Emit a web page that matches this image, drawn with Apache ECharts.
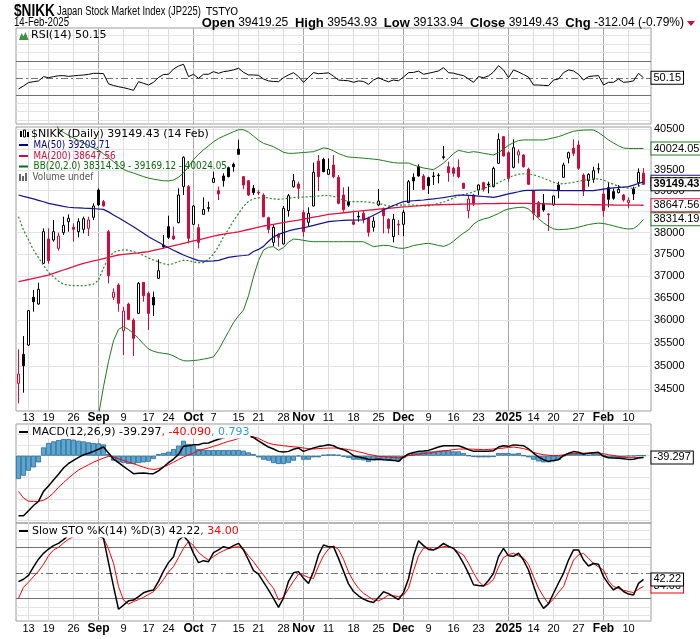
<!DOCTYPE html>
<html><head><meta charset="utf-8">
<script src="https://cdn.jsdelivr.net/npm/echarts/dist/echarts.min.js"></script>
<style>html,body{margin:0;padding:0;background:#fff}#c{width:700px;height:639px}</style>
</head><body><div id="c"></div>
<script>
// ---------- data ----------
const dates = [
'2024-08-08','2024-08-09','2024-08-13','2024-08-14','2024-08-15','2024-08-16','2024-08-19','2024-08-20','2024-08-21','2024-08-22',
'2024-08-23','2024-08-26','2024-08-27','2024-08-28','2024-08-29','2024-08-30','2024-09-02','2024-09-03','2024-09-04','2024-09-05',
'2024-09-06','2024-09-09','2024-09-10','2024-09-11','2024-09-12','2024-09-13','2024-09-17','2024-09-18','2024-09-19','2024-09-20',
'2024-09-24','2024-09-25','2024-09-26','2024-09-27','2024-09-30','2024-10-01','2024-10-02','2024-10-03','2024-10-04','2024-10-07',
'2024-10-08','2024-10-09','2024-10-10','2024-10-11','2024-10-15','2024-10-16','2024-10-17','2024-10-18','2024-10-21','2024-10-22',
'2024-10-23','2024-10-24','2024-10-25','2024-10-28','2024-10-29','2024-10-30','2024-10-31','2024-11-01','2024-11-05','2024-11-06',
'2024-11-07','2024-11-08','2024-11-11','2024-11-12','2024-11-13','2024-11-14','2024-11-15','2024-11-18','2024-11-19','2024-11-20',
'2024-11-21','2024-11-22','2024-11-25','2024-11-26','2024-11-27','2024-11-28','2024-11-29','2024-12-02','2024-12-03','2024-12-04',
'2024-12-05','2024-12-06','2024-12-09','2024-12-10','2024-12-11','2024-12-12','2024-12-13','2024-12-16','2024-12-17','2024-12-18',
'2024-12-19','2024-12-20','2024-12-23','2024-12-24','2024-12-25','2024-12-26','2024-12-27','2024-12-30','2025-01-06','2025-01-07',
'2025-01-08','2025-01-09','2025-01-10','2025-01-14','2025-01-15','2025-01-16','2025-01-17','2025-01-20','2025-01-21','2025-01-22',
'2025-01-23','2025-01-24','2025-01-27','2025-01-28','2025-01-29','2025-01-30','2025-01-31','2025-02-03','2025-02-04','2025-02-05',
'2025-02-06','2025-02-07','2025-02-10','2025-02-12','2025-02-13','2025-02-14'];

const open = [34628,35252,35456,36514,36364,37288,37852,37828,37634,38000,
38258,38125,38023,38078,38101,38361,39013,38733,38023,36514,
36793,35771,36364,36007,36155,36853,36604,36514,36945,37704,
38141,37921,38235,39093,39093,38196,38117,38431,38590,39197,
38997,39351,39553,39635,40004,39335,39238,39053,38960,38892,
38353,37774,37960,37735,38519,39093,39157,38479,38243,38630,
39716,39756,39391,39619,39319,38892,38733,38258,38385,38455,
38337,38125,38654,38574,38313,37906,38200,38196,38709,39319,
39577,39351,39311,39350,39360,39820,39577,39537,39561,39173,
38519,38892,39013,39190,39157,39093,39660,40317,39922,39561,
39864,39864,39513,38997,38709,38693,38440,38654,39133,39319,
39788,40028,40111,39375,39238,39270,39520,38918,39069,38973,
38949,38892,38715,39037,39190,39419.25];
const high = [35361,35653,36230,36680,36846,38101,38101,38297,38000,38376,
38431,38219,38337,38376,38376,38693,39053,38773,38062,36717,
36831,36300,36394,36044,36860,36860,36642,36642,37380,37945,
38400,38141,39053,39830,39133,38654,38204,38837,38733,39456,
39093,39416,39577,39676,40243,39351,39254,39133,39013,38933,
38376,38180,37984,38630,38918,39399,39213,38535,38597,39676,
39864,39797,39780,39864,39375,39077,39093,38519,38494,38519,
38376,38376,39037,38590,38337,38439,38297,38535,39253,39416,
39635,39399,39335,39456,39416,40087,39700,39577,39756,39190,
38892,38918,39149,39213,39213,39577,40400,40330,39946,40251,
40004,39880,39553,39013,38749,38918,38455,38880,39213,39676,
39946,40251,40218,39416,39416,39577,39660,39053,39190,39053,
39133,38918,38837,39093,39537,39543.93];
const low = [34203,34429,35434,36193,36350,37280,37280,37789,37580,37945,
38023,37789,37890,37984,37921,38297,38630,38620,36831,36454,
36193,35238,36007,35216,36140,36416,35786,36096,36930,37634,
37852,37828,38220,38892,37750,38180,37634,38420,38494,39190,
38773,39093,39319,39456,39870,39029,38869,38892,38892,38361,
37984,37688,37673,37720,38376,39069,38797,37906,38141,38620,
38989,39440,39375,39295,38669,38494,38610,38180,38258,38219,
37906,38023,38630,37984,37984,37774,37945,37921,38700,39013,
39335,39013,38918,39133,39173,39756,39213,39335,39295,39040,
38337,38630,38892,38973,38933,39077,39650,39830,39213,39537,
39660,39553,39133,38297,38353,38494,38039,38630,38813,39310,
39660,39839,39497,38869,39093,39190,39416,38376,38597,38780,
38933,38733,38574,38773,39093,39133.94];
const close = [34828,35007,36215,36416,36694,38023,37349,38023,37921,38172,
38337,38078,38258,38329,38300,38630,38654,38630,37005,36627,
36379,36208,36022,35602,36831,36551,36155,36342,37119,37673,
37890,37852,38892,39807,37867,38630,37774,38550,38574,39295,
38918,39238,39335,39577,39880,39133,38892,38949,38940,38376,
38078,38125,37890,38574,38877,39238,39053,38023,38455,39440,
39335,39456,39513,39335,38693,38540,38650,38196,38370,38313,
38007,38274,38749,38400,38101,38313,38180,38479,39213,39230,
39351,39029,39117,39340,39370,39805,39432,39416,39335,39053,
38797,38677,39133,39029,39133,39537,40251,39839,39295,40045,
39946,39577,39149,38455,38376,38535,38425,38869,39013,39619,
39922,39905,39537,38989,39391,39481,39530,38519,38789,38813,
39029,38773,38765,38918,39440,39149.43];
const priorClose = 35089; // session before the first bar (first candle is drawn red)

const ma50 = [38892,38860,38830,38800,38765,38730,38693,38670,38645,38620,
38600,38590,38585,38578,38574,38565,38558,38550,38490,38416,
38350,38280,38210,38141,38060,37985,37906,37840,37775,37710,
37650,37590,37535,37480,37435,37390,37349,37340,37340,37345,
37355,37390,37426,37442,37457,37468,37480,37560,37610,37680,
37800,37900,37960,38000,38040,38070,38095,38115,38141,38170,
38200,38230,38258,38270,38280,38290,38297,38297,38298,38300,
38350,38410,38470,38535,38590,38640,38690,38733,38745,38755,
38765,38773,38787,38800,38815,38829,38850,38870,38892,38890,
38885,38877,38867,38857,38847,38837,38860,38890,38918,38945,
38970,38997,39002,39006,39010,39013,39008,39003,38997,38997,
38997,38997,38997,38997,38997,38997,39015,39035,39053,39063,
39073,39083,39093,39130,39170,39209.71];
const ma200 = [36868,36893,36918,36944,36969,36995,37020,37058,37096,37135,
37173,37211,37250,37288,37315,37343,37370,37398,37425,37453,
37480,37493,37506,37519,37531,37544,37557,37585,37612,37640,
37667,37695,37722,37750,37778,37806,37834,37861,37889,37917,
37945,37964,37983,38001,38020,38047,38074,38102,38129,38156,
38176,38196,38216,38237,38257,38277,38297,38319,38342,38364,
38386,38409,38431,38444,38456,38469,38481,38494,38506,38519,
38530,38541,38553,38564,38575,38586,38597,38607,38616,38626,
38635,38645,38654,38657,38660,38663,38666,38669,38671,38674,
38677,38680,38682,38684,38686,38688,38689,38690,38690,38690,
38690,38690,38690,38687,38684,38680,38677,38673,38670,38669,
38667,38666,38664,38663,38661,38660,38659,38657,38656,38654,
38653,38651,38650,38649,38649,38647.56];
const bbUpper = [null,null,null,null,null,null,null,40800,40500,40420,
40350,40285,40220,40160,40100,40045,39990,39890,39800,39700,
39600,39510,39460,39424,39380,39335,39300,39275,39255,39235,
39232,39254,39320,39424,39580,39750,39880,39990,40090,40190,
40270,40330,40384,40440,40490,40490,40430,40330,40230,40152,
40110,40069,40000,39930,39905,39905,39915,39925,39935,39946,
39990,40040,40020,39965,39900,39850,39815,39805,39795,39787,
39775,39762,39750,39725,39700,39675,39667,39667,39667,39620,
39580,39546,39525,39505,39580,39667,39780,39900,39980,39950,
39925,39946,39930,39905,39885,39864,39920,40010,40100,40170,
40220,40236,40236,40236,40236,40236,40260,40290,40317,40360,
40410,40450,40470,40480,40485,40483,40420,40330,40236,40160,
40090,40035,40025,40024,40024,40024.05];
const bbMid = [38376,38062,37830,37596,37420,37240,37080,36980,36880,36810,
36790,36780,36778,36778,36790,36815,36900,37180,37420,37540,
37580,37596,37590,37560,37525,37470,37410,37365,37320,37280,
37255,37280,37330,37360,37350,37320,37305,37303,37380,37500,
37680,37900,38080,38280,38450,38620,38740,38800,38825,38837,
38820,38800,38790,38800,38815,38830,38840,38845,38850,38853,
38870,38885,38880,38860,38820,38770,38740,38733,38733,38733,
38720,38705,38693,38660,38630,38640,38650,38654,38654,38654,
38645,38638,38632,38660,38690,38720,38770,38820,38870,38900,
38930,38970,39010,39050,39090,39133,39190,39250,39310,39360,
39390,39406,39400,39380,39340,39295,39250,39200,39160,39165,
39180,39200,39220,39245,39270,39295,39275,39254,39200,39150,
39100,39075,39060,39053,39100,39169.12];
const bbLower = [null,null,null,null,null,null,null,null,null,null,
null,null,null,null,null,null,33950,34557,35100,35550,
35800,35860,35800,35712,35600,35480,35370,35320,35290,35275,
35260,35220,35160,35115,35110,35120,35130,35150,35170,35200,
35350,35550,35750,35950,36100,36230,36550,36982,37350,37596,
37660,37673,37590,37650,37780,37850,37840,37820,37800,37789,
37789,37789,37789,37789,37789,37789,37789,37789,37789,37789,
37730,37673,37690,37705,37700,37670,37640,37634,37660,37700,
37720,37740,37750,37730,37700,37680,37720,37800,37900,37990,
38062,38200,38280,38320,38350,38400,38450,38520,38560,38580,
38595,38600,38560,38450,38330,38230,38150,38090,38070,38075,
38085,38100,38128,38160,38190,38210,38224,38215,38190,38160,
38128,38100,38086,38095,38180,38314.19];

const rsi = [36.9,40.5,44.5,45.5,46.4,51.5,50.3,51.5,52.5,52.7,
51.8,52.4,53.0,53.4,54.2,55.4,55.4,55.0,43.0,41.0,
39.6,38.5,37.0,35.3,45.5,43.6,41.6,44.8,50.5,54.0,
54.3,60.5,64.0,66.1,51.5,54.3,49.5,54.3,54.3,57.4,
55.4,57.4,58.2,59.5,61.4,56.6,53.5,53.5,53.0,48.7,
46.4,45.8,45.5,50.3,53.5,56.2,51.5,44.8,50.5,56.2,
55.0,55.4,56.0,52.0,47.5,47.0,46.6,44.8,46.4,45.8,
42.4,47.5,50.3,47.5,45.5,47.5,46.6,51.0,56.2,56.5,
58.0,54.3,55.5,56.8,58.2,62.1,56.2,55.6,54.0,52.7,
48.7,44.8,51.5,50.3,52.3,57.0,64.5,59.4,50.3,59.4,
57.0,54.0,51.0,41.6,41.6,41.2,40.8,47.5,48.7,56.2,
59.4,58.2,54.3,47.5,51.5,52.3,52.7,41.6,44.8,44.8,
48.7,44.8,45.3,46.5,55.4,50.15];

const macd = [-1386,-1386,-1270,-1150,-1055,-824,-700,-560,-430,-285,
-180,-110,-40,20,55,100,150,200,62,-77,
-160,-246,-330,-416,-405,-400,-410,-416,-350,-260,
-160,-77,30,220,231,254,254,290,293,340,
380,415,440,447,460,462,455,420,340,270,
200,154,100,85,100,150,177,100,140,177,
210,231,254,230,170,139,85,0,-30,-54,
-80,-85,-80,-92,-100,-108,-131,-31,40,75,
100,110,123,160,200,231,231,231,231,190,
140,100,100,100,105,115,200,231,216,250,
240,231,160,60,-30,-92,-131,-110,-92,0,
55,95,80,38,55,70,77,-15,-45,-54,
-58,-69,-85,-80,-55,-39.297];
const macdSignal = [-824,-978,-1050,-1055,-1055,-1030,-960,-860,-730,-620,
-520,-420,-330,-270,-210,-150,-100,-54,-15,-30,
-70,-110,-150,-185,-225,-265,-300,-320,-300,-260,
-210,-150,-90,-30,20,60,120,150,180,216,
250,295,330,360,400,430,447,435,400,340,
290,260,245,230,216,205,195,177,165,154,
165,170,177,177,177,160,139,120,90,65,
30,10,-15,-22,-31,-40,-54,-20,0,15,
35,50,62,80,100,112,123,140,154,154,
154,150,145,139,145,154,165,177,190,200,
185,165,130,77,45,23,10,0,5,20,
35,46,52,57,62,62,62,45,23,5,
-15,-30,-45,-45,-42,-40.09];
const macdHist = [-539,-462,-346,-270,-154,192,293,331,362,385,
385,370,346,331,308,293,285,260,40,-115,
-154,-170,-192,-192,-170,-154,-139,-77,38,62,
92,154,231,346,270,231,154,139,131,131,
131,131,131,131,131,115,77,38,-38,-92,
-115,-170,-192,-192,-170,-115,-15,-92,-92,-38,
-38,23,31,31,23,-23,-54,-92,-92,-108,
-146,-108,-77,-92,-108,-115,-131,-54,23,62,
77,100,100,100,115,123,123,100,100,62,
0,-31,-38,-38,-38,-31,62,62,62,46,
62,0,-38,-92,-131,-154,-154,-131,-92,0,
62,62,46,46,23,46,46,0,-54,-54,
-54,-54,-15,-15,0,0.793];

const stoK = [39.6,42.4,47.0,57.0,66.0,72.9,78.0,82.0,84.7,89.0,
94.0,96.5,98.0,97.5,96.0,95.0,93.5,90.6,62.0,34.0,
7.1,12.0,17.0,18.0,22.0,26.5,28.5,29.8,40.0,52.0,
62.0,69.0,88.0,93.3,86.7,72.9,62.0,64.3,63.1,73.7,
76.9,80.8,78.8,82.0,84.7,76.9,65.1,52.5,48.5,39.0,
30.0,20.0,9.4,20.5,40.0,50.0,51.4,43.5,37.6,51.4,
71.0,82.7,80.8,80.8,67.0,52.0,37.0,28.0,23.0,19.0,
16.5,15.0,21.0,27.8,25.5,22.0,18.5,26.7,43.0,70.0,
87.8,82.0,77.5,76.9,80.0,84.7,81.0,78.8,71.5,61.2,
49.4,36.0,35.0,34.5,41.0,49.4,69.0,78.8,70.0,69.5,
73.0,65.0,53.3,35.0,18.0,8.2,13.5,26.0,38.0,49.4,
65.0,76.9,76.9,65.1,58.0,61.0,60.0,45.5,37.0,29.8,
33.7,28.0,25.0,23.9,37.6,42.22];
const stoD = [20.0,33.0,39.0,45.5,52.0,60.0,70.0,76.9,80.0,85.0,
89.5,92.5,95.0,96.5,96.5,95.5,94.5,91.0,78.0,61.2,
34.0,18.0,13.3,16.1,18.5,21.2,24.5,27.8,34.5,42.0,
51.0,57.3,68.0,78.8,87.0,82.0,74.0,69.0,65.1,69.0,
73.0,76.0,78.5,80.0,80.8,78.0,70.0,63.1,55.0,47.5,
39.0,31.8,18.0,21.2,31.0,40.0,48.5,47.0,44.5,43.5,
58.0,70.0,78.0,81.6,77.5,66.0,51.0,40.0,31.8,26.0,
22.0,18.0,17.0,20.0,23.9,23.0,22.0,23.9,31.8,52.0,
70.0,79.0,79.5,76.9,79.0,80.8,81.6,78.5,74.5,71.0,
61.2,50.0,40.0,34.5,37.0,42.4,57.0,68.0,71.5,72.9,
70.0,67.5,60.0,45.5,32.0,22.0,13.3,19.0,27.0,33.7,
50.0,65.0,71.0,72.9,67.1,61.0,57.0,53.3,40.5,34.0,
31.5,29.5,28.0,26.7,30.6,34.0];

// tick labels
const tickDates = ['2024-08-13','2024-08-19','2024-08-26','2024-09-02','2024-09-09','2024-09-17','2024-09-24','2024-10-01','2024-10-07','2024-10-15','2024-10-21','2024-10-28','2024-11-01','2024-11-11','2024-11-18','2024-11-25','2024-12-02','2024-12-09','2024-12-16','2024-12-23','2025-01-06','2025-01-14','2025-01-20','2025-01-27','2025-02-03','2025-02-10'];
const tickLabels = ['13','19','26','Sep','9','17','24','Oct','7','15','21','28','Nov','11','18','25','Dec','9','16','23','2025','14','20','27','Feb','10'];
const monthLabels = ['Sep','Oct','Nov','Dec','2025','Feb'];
const priceTicks = [34500,35000,35500,36000,36500,37000,37500,38000,38500,39000,39500,40000,40500];
const rsiTicks = [10,30,50,70,90];
const rsiGrid = [0,10,20,40,60,80,90,100];
const macdTicks = [500,0,-500,-1000,-1500];
const macdGrid = [500,250,0,-250,-500,-750,-1000,-1250,-1500];
const stoTicks = [20,50,80];
const stoGrid = [0,10,30,40,60,70,90,100];

// ---------- chart ----------
const SANS = '"Liberation Sans", Arial, sans-serif';
const VERD = '"DejaVu Sans", Verdana, sans-serif';
const RED = '#d10a3c';
const cats = dates.concat(['']);
const tickMap = {};
tickDates.forEach((d, k) => tickMap[d] = tickLabels[k]);

const candleData = dates.map((d, i) => {
  const o = open[i], c = close[i], pc = i ? close[i - 1] : priorClose;
  const col = c < pc ? RED : '#000';
  const fill = c > o ? '#fff' : col;
  return {value: [o, c, low[i], high[i]],
    itemStyle: {color: fill, color0: fill, borderColor: col, borderColor0: col, borderWidth: 1}};
});

function vLines() {
  return tickDates.map((d, k) => ({xAxis: d,
    lineStyle: {color: monthLabels.includes(tickLabels[k]) ? '#a6a6a6' : '#dcdcdc', width: 1, type: 'solid'}}));
}
function hLine(v, color, type, text) {
  const o = {yAxis: v, lineStyle: {color: color, width: 1, type: type}};
  if (text != null) o.label = {show: true, position: 'end', formatter: text, distance: 3,
    color: '#000', fontSize: 11, fontFamily: SANS};
  return o;
}
function helper(k, lines) {
  return {type: 'line', xAxisIndex: k, yAxisIndex: k, data: [], silent: true, z: 1,
    markLine: {silent: true, symbol: 'none', z: 1, animation: false, label: {show: false},
      data: vLines().concat(lines)}};
}
function tag(color, bold, digits) {
  return {show: true, formatter: p => Number(p.value).toFixed(digits), color: '#000', fontSize: 11,
    fontFamily: SANS, fontWeight: bold ? 'bold' : 'normal', backgroundColor: '#fff',
    borderColor: color, borderWidth: 1, padding: [1, 2, 0, 2], distance: 8};
}
function line(k, data, color, width, extra) {
  return Object.assign({type: 'line', xAxisIndex: k, yAxisIndex: k, data: data, symbol: 'none',
    showSymbol: false, connectNulls: false, z: 3,
    lineStyle: {color: color, width: width}}, extra || {});
}
function xAxisFor(k, show, margin) {
  return {type: 'category', gridIndex: k, data: cats, boundaryGap: true,
    axisLine: {show: false}, axisTick: {show: false}, splitLine: {show: false},
    axisLabel: show ? {show: true, interval: (i, v) => v in tickMap, margin: margin,
      formatter: v => { const t = tickMap[v]; return t == null ? '' : (monthLabels.includes(t) ? '{m|' + t + '}' : t); },
      color: '#000', fontSize: 11, fontFamily: SANS,
      rich: {m: {fontWeight: 'bold', fontSize: 12, fontFamily: SANS, color: '#000'}}} : {show: false}};
}
const tickLabelItem = v => ({yAxis: v, lineStyle: {opacity: 0},
  label: {show: true, position: 'end', formatter: String(v), distance: 3, color: '#000', fontSize: 11, fontFamily: SANS}});

const priceLines = priceTicks.map(v => hLine(v, '#e3e3e3', 'solid', String(v)));
const rsiLines = rsiGrid.map(v => hLine(v, '#e3e3e3', 'solid'))
  .concat([hLine(70, '#707070', 'solid'), hLine(30, '#707070', 'solid'), hLine(50, '#707070', [7, 3, 2, 3])])
  .concat(rsiTicks.map(tickLabelItem));
const macdLines = macdGrid.map(v => hLine(v, '#e3e3e3', 'solid')).concat(macdTicks.map(tickLabelItem));
const stoLines = stoGrid.map(v => hLine(v, '#e3e3e3', 'solid'))
  .concat([hLine(80, '#707070', 'solid'), hLine(20, '#707070', 'solid'), hLine(50, '#707070', [7, 3, 2, 3])])
  .concat(stoTicks.map(tickLabelItem));

const G = (o) => Object.assign({z: 50, zlevel: 0}, o);
const T = (x, y, text, font, fill, extra) => G(Object.assign({type: 'text', x: x, y: y,
  style: Object.assign({text: text, font: font, fill: fill, verticalAlign: 'middle'}, (extra && extra.style) || {})},
  extra && extra.el ? extra.el : {}));
const graphic = [
  T(14, 11, '$NIKK', 'bold 17px ' + SANS, '#000', {el: {scaleX: 0.8}}),
  T(57, 12, 'Japan Stock Market Index (JP225)', '12.5px ' + SANS, '#000', {el: {scaleX: 0.75}}),
  T(206, 12, 'TSTYO', '10px ' + VERD, '#000'),
  T(698, 12, '\u00a9StockCharts.com', '12.5px ' + SANS, '#555', {style: {align: 'right'}, el: {scaleX: 0.86, originX: 698}}),
  T(14, 23, '14-Feb-2025', '12px ' + SANS, '#000', {el: {scaleX: 0.8}}),
  T(684, 23, '{b|Open} 39419.25  {b|High} 39543.93  {b|Low} 39133.94  {b|Close} 39149.43  {b|Chg} -312.04 (-0.79%)',
    '12px ' + SANS, '#000', {style: {align: 'right', rich: {b: {font: 'bold 13px ' + SANS, fill: '#000'}}}}),
  G({type: 'polygon', shape: {points: [[687, 21], [695, 21], [691, 26]]}, style: {fill: RED}}),
  // RSI legend
  G({type: 'polygon', shape: {points: [[19, 40], [21.5, 33], [23.5, 36.5], [25.5, 32], [28.5, 40]]}, style: {fill: '#3f8f3f'}}),
  T(31, 35.5, 'RSI(14) 50.15', '11px ' + VERD, '#000'),
  // price legend
  G({type: 'rect', shape: {x: 20, y: 131, width: 2, height: 6}, style: {fill: '#000'}}),
  G({type: 'rect', shape: {x: 23.5, y: 130, width: 2, height: 7}, style: {fill: '#fff', stroke: '#000', lineWidth: 1}}),
  G({type: 'rect', shape: {x: 27, y: 132, width: 2, height: 5}, style: {fill: '#000'}}),
  T(31, 134, '$NIKK (Daily) 39149.43 (14 Feb)', '11px ' + VERD, '#000'),
  G({type: 'line', shape: {x1: 19, y1: 145, x2: 28, y2: 145}, style: {stroke: '#000080', lineWidth: 2}}),
  T(30, 145, 'MA(50) 39209.71', '10px ' + VERD, '#000080', {el: {scaleX: 0.88, originX: 30}}),
  G({type: 'line', shape: {x1: 19, y1: 156, x2: 28, y2: 156}, style: {stroke: RED, lineWidth: 2}}),
  T(30, 156, 'MA(200) 38647.56', '10px ' + VERD, RED, {el: {scaleX: 0.88, originX: 30}}),
  G({type: 'line', shape: {x1: 19, y1: 166.5, x2: 28, y2: 166.5}, style: {stroke: '#0a6a0a', lineWidth: 2}}),
  T(30, 166.5, 'BB(20,2.0) 38314.19 - 39169.12 - 40024.05', '10px ' + VERD, '#0a6a0a', {el: {scaleX: 0.88, originX: 30}}),
  G({type: 'rect', shape: {x: 19, y: 174, width: 2, height: 7}, style: {fill: '#666'}}),
  G({type: 'rect', shape: {x: 22, y: 176, width: 2, height: 5}, style: {fill: '#666'}}),
  G({type: 'rect', shape: {x: 25, y: 173, width: 2, height: 8}, style: {fill: '#666'}}),
  T(29, 177, 'Volume undef', '10px ' + VERD, '#555', {el: {scaleX: 0.88, originX: 29}}),
  // MACD legend
  G({type: 'line', shape: {x1: 19, y1: 432, x2: 28, y2: 432}, style: {stroke: '#000', lineWidth: 2}}),
  T(31, 432, '{a|MACD(12,26,9) -39.297}{r|, -40.090}{c|, 0.793}', '11px ' + VERD, '#000', {style: {
    backgroundColor: '#fff', padding: [1, 1, 1, 1],
    rich: {a: {fill: '#000', font: '11px ' + VERD}, r: {fill: '#f00', font: '11px ' + VERD}, c: {fill: '#3a9ad0', font: '11px ' + VERD}}}}),
  // STO legend
  G({type: 'line', shape: {x1: 19, y1: 531, x2: 28, y2: 531}, style: {stroke: '#000', lineWidth: 2}}),
  T(31, 531, '{a|Slow STO %K(14) %D(3) 42.22}{r|, 34.00}', '11px ' + VERD, '#000', {style: {
    backgroundColor: '#fff', padding: [1, 1, 1, 1],
    rich: {a: {fill: '#000', font: '11px ' + VERD}, r: {fill: '#f00', font: '11px ' + VERD}}}})
];

const gridBase = {left: 16, width: 635, show: true, borderColor: '#9c9c9c', borderWidth: 1, backgroundColor: 'transparent'};
const option = {
  animation: false,
  backgroundColor: '#fff',
  grid: [
    Object.assign({top: 28, height: 96}, gridBase),
    Object.assign({top: 127, height: 284}, gridBase),
    Object.assign({top: 424, height: 99}, gridBase),
    Object.assign({top: 523, height: 98}, gridBase)
  ],
  xAxis: [xAxisFor(0, false), xAxisFor(1, true, 1), xAxisFor(2, false), xAxisFor(3, true, 2)],
  yAxis: [
    {type: 'value', gridIndex: 0, min: -4.5, max: 109, show: false},
    {type: 'log', logBase: 10, gridIndex: 1, min: 34043, max: 40558, show: false},
    {type: 'value', gridIndex: 2, min: -1554, max: 732, show: false},
    {type: 'value', gridIndex: 3, min: -6.7, max: 108.6, show: false}
  ],
  graphic: graphic,
  series: [
    helper(0, rsiLines),
    line(0, rsi, '#000', 1, {endLabel: tag('#000', false, 2)}),

    helper(1, priceLines),
    {type: 'candlestick', xAxisIndex: 1, yAxisIndex: 1, data: candleData, barWidth: 3, z: 2},
    line(1, bbUpper, '#1e7a1e', 1, {endLabel: tag('#1e7a1e', false, 2)}),
    line(1, bbMid, '#1e7a1e', 1.2, {lineStyle: {color: '#2a862a', width: 1.2, type: [2, 2]}}),
    line(1, bbLower, '#1e7a1e', 1, {endLabel: tag('#1e7a1e', false, 2)}),
    line(1, ma200, '#e0143f', 1.3, {endLabel: tag('#e0143f', false, 2)}),
    line(1, ma50, '#14148a', 1.2, {endLabel: tag('#14148a', false, 2)}),
    line(1, close, '#000', 1, {lineStyle: {opacity: 0}, z: 6, endLabel: tag('#000', true, 2)}),

    helper(2, macdLines),
    {type: 'bar', xAxisIndex: 2, yAxisIndex: 2, data: macdHist, barCategoryGap: '0%', z: 2,
      itemStyle: {color: '#5aa7d4', borderColor: '#2a6790', borderWidth: 0.8}},
    line(2, macdSignal, '#ff0000', 1),
    line(2, macd, '#000', 1.5, {endLabel: tag('#000', false, 3), z: 4}),

    helper(3, stoLines),
    line(3, stoD, '#ff0000', 1, {endLabel: tag('#e00', false, 2)}),
    line(3, stoK, '#000', 1.5, {endLabel: tag('#000', false, 2), z: 4})
  ]
};
const chart = echarts.init(document.getElementById('c'));
chart.setOption(option);
</script>
</body></html>
